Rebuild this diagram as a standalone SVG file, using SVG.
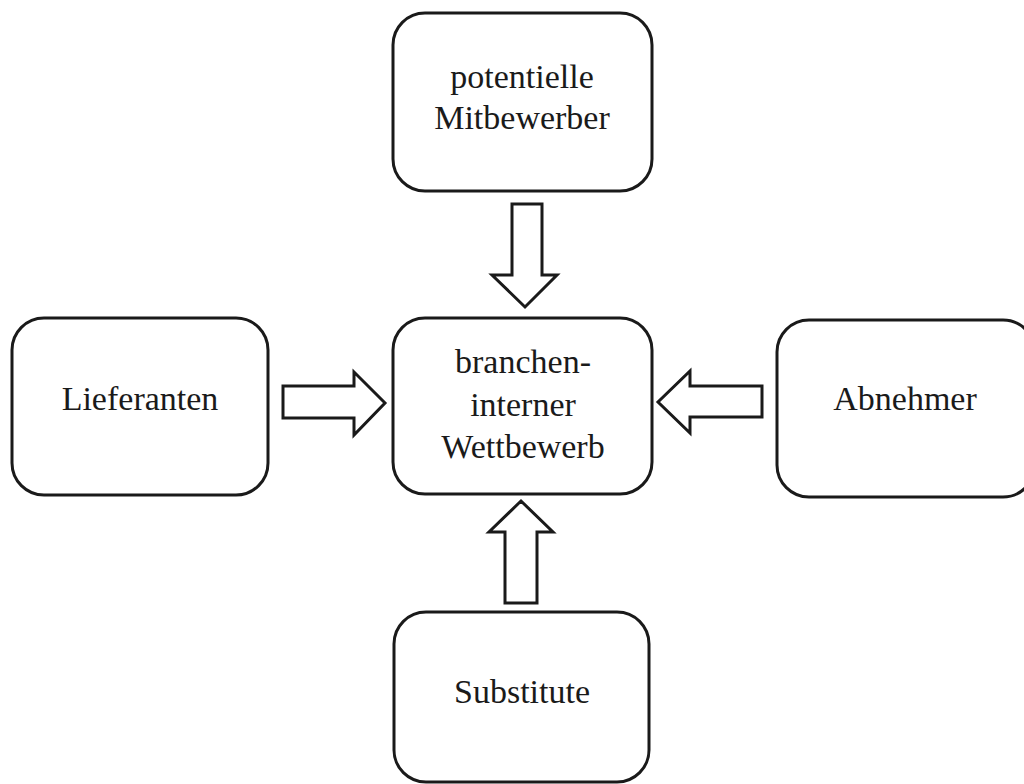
<svg xmlns="http://www.w3.org/2000/svg" width="1024" height="784" viewBox="0 0 1024 784">
<style>
.box{fill:#fff;stroke:#1a1a1a;stroke-width:3}
.arr{fill:#fff;stroke:#1a1a1a;stroke-width:3;stroke-linejoin:miter}
.t{font-family:"Liberation Serif","Times New Roman",serif;font-size:34px;fill:#1a1a1a;text-anchor:middle}
</style>
<rect width="1024" height="784" fill="#fff"/>
<g id="connectors">
<polygon class="arr" points="512,204 542,204 542,275 557,275 525,307 492,275 512,275"/>
<polygon class="arr" points="283,386 354,386 354,372 385,403 354,435 354,418 283,418"/>
<polygon class="arr" points="762,386 690,386 690,371 658,402 690,433 690,417 762,417"/>
<polygon class="arr" points="505,603 505,532 489,532 521,501 553,532 537,532 537,603"/>
</g>
<g id="node-mitbewerber">
<rect class="box" x="393" y="13" width="259" height="178" rx="32"/>
<text class="t" x="522" y="88">potentielle</text>
<text class="t" x="522" y="129">Mitbewerber</text>
</g>
<g id="node-lieferanten">
<rect class="box" x="12" y="318" width="256" height="177" rx="32"/>
<text class="t" x="140" y="410">Lieferanten</text>
</g>
<g id="node-wettbewerb">
<rect class="box" x="393" y="318" width="259" height="176" rx="32"/>
<text class="t" x="523" y="373">branchen-</text>
<text class="t" x="523" y="416">interner</text>
<text class="t" x="523" y="458">Wettbewerb</text>
</g>
<g id="node-abnehmer">
<rect class="box" x="777" y="320" width="258" height="177" rx="32"/>
<text class="t" x="905" y="410">Abnehmer</text>
</g>
<g id="node-substitute">
<rect class="box" x="394" y="612" width="255" height="170" rx="32"/>
<text class="t" x="522" y="703">Substitute</text>
</g>
</svg>
